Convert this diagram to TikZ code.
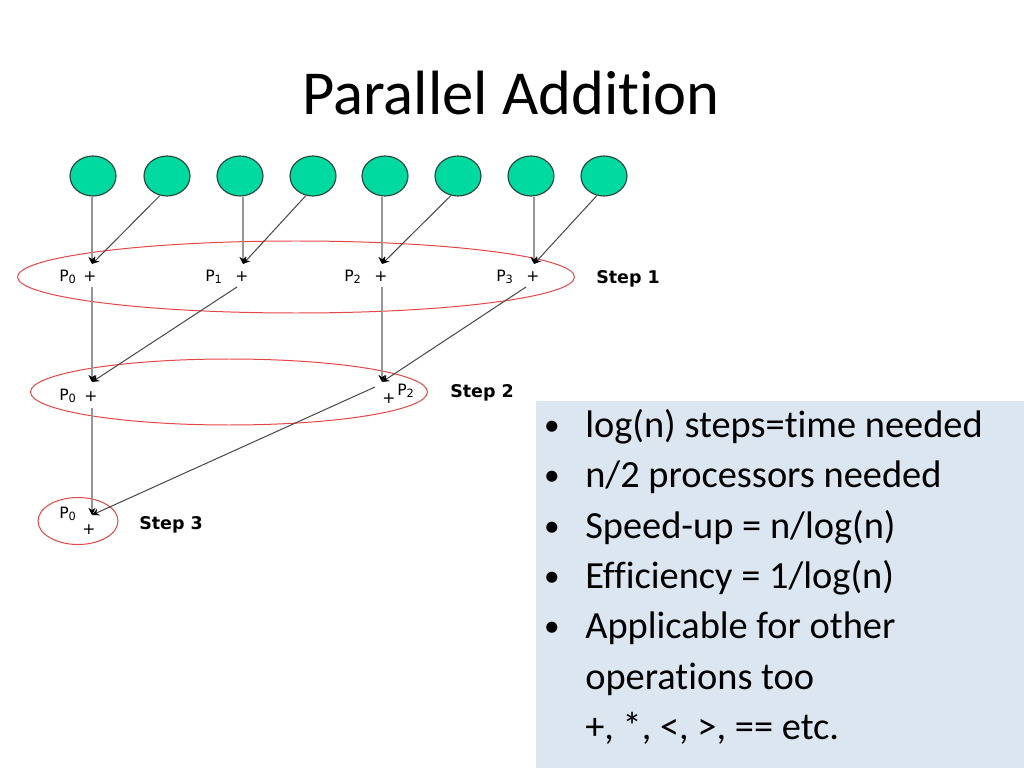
\documentclass[tikz,border=0pt]{standalone}
\usepackage{fontspec}
\setmainfont{Carlito}[Ligatures=NoCommon]
\newfontfamily\verd{DejaVu Sans}
\usetikzlibrary{shapes.geometric,arrows.meta}
\definecolor{leafgreen}{RGB}{0,217,160}
\definecolor{leafedge}{RGB}{40,70,60}
\definecolor{ringred}{RGB}{228,70,70}
\definecolor{boxblue}{RGB}{220,230,241}
\definecolor{vline}{RGB}{150,150,150}
\definecolor{dline}{RGB}{70,70,70}
\tikzset{
  leaf/.style={ellipse, draw=leafedge, line width=0.8pt, fill=leafgreen, minimum width={46*0.703125pt}, minimum height={40*0.703125pt}, inner sep=0pt},
  ring/.style={ellipse, draw=ringred, line width=0.7pt, inner sep=0pt},
  plab/.style={font=\verd\fontsize{11}{13}\selectfont, anchor=base west, inner sep=0pt},
  plus/.style={font=\verd\fontsize{11}{13}\selectfont, inner sep=0.5pt},
  steplab/.style={font=\verd\bfseries\fontsize{12.3}{14}\selectfont, anchor=base west, inner sep=0pt},
  vconn/.style={draw=vline, line width=0.9pt, arrows={-{Stealth[length=5pt,width=5pt,black]}}},
  dconn/.style={draw=dline, line width=0.7pt, arrows={-{Stealth[length=5pt,width=5pt,black]}}},
  bul/.style={font=\fontsize{22}{26}\selectfont, anchor=base, inner sep=0pt},
  btxt/.style={font=\fontsize{27}{32}\selectfont, anchor=base west, inner sep=0pt},
}
\newcommand{\Pl}[1]{P\raisebox{-0.35ex}{\fontsize{8}{9}\selectfont #1}}
\begin{document}
\begin{tikzpicture}[x=0.703125pt,y=-0.703125pt]
\useasboundingbox (0,0) rectangle (1024,768);
\fill[white] (0,0) rectangle (1024,768);
% title
\node[font=\fontsize{44}{52}\selectfont, anchor=base, inner sep=0pt] (title) at (511,115) {Parallel Addition};
% text box
\fill[boxblue] (536,401) rectangle (1024,768);
\node[bul] (b1) at (552,435) {•};
\node[btxt] (t1) at (585,437) {log(n) steps=time needed};
\node[bul] (b2) at (552,485) {•};
\node[btxt] (t2) at (585,487) {n/2 processors needed};
\node[bul] (b3) at (552,536) {•};
\node[btxt] (t3) at (585,538) {Speed-up = n/log(n)};
\node[bul] (b4) at (552,586) {•};
\node[btxt] (t4) at (585,588) {Efficiency = 1/log(n)};
\node[bul] (b5) at (552,636) {•};
\node[btxt] (t5) at (585,638) {Applicable for other};
\node[btxt] (t6) at (585,689) {operations too};
\node[btxt] (t7) at (585,739) {+, *, <, >, == etc.};
% rings
\node[ring, minimum width={557*0.703125pt}, minimum height={72*0.703125pt}] (ring1) at (296,277) {};
\node[ring, minimum width={397*0.703125pt}, minimum height={66*0.703125pt}] (ring2) at (229,392) {};
\node[ring, minimum width={80*0.703125pt}, minimum height={47*0.703125pt}] (ring3) at (78,521) {};
% leaves
\node[leaf] (c1) at (93,176) {};
\node[leaf] (c2) at (167,176) {};
\node[leaf] (c3) at (240,176) {};
\node[leaf] (c4) at (313,176) {};
\node[leaf] (c5) at (385,176) {};
\node[leaf] (c6) at (458,176) {};
\node[leaf] (c7) at (531,176) {};
\node[leaf] (c8) at (604,176) {};
% step 1
\coordinate (j1a) at (92,264);
\coordinate (j1b) at (243,264);
\coordinate (j1c) at (382,264);
\coordinate (j1d) at (534,264);
\node[plus] (q1a) at (90,277) {+};
\node[plus] (q1b) at (242,277) {+};
\node[plus] (q1c) at (381,277) {+};
\node[plus] (q1d) at (533,277) {+};
\node[plab] (l1a) at (59,281) {\Pl{0}};
\node[plab] (l1b) at (205,281) {\Pl{1}};
\node[plab] (l1c) at (344,281) {\Pl{2}};
\node[plab] (l1d) at (496,281) {\Pl{3}};
\node[steplab] (s1) at (596,283) {Step 1};
\draw[vconn] (c1.south -| j1a) -- (j1a);
\draw[dconn] (c2.250) -- (j1a);
\draw[vconn] (c3.south -| j1b) -- (j1b);
\draw[dconn] (c4.250) -- (j1b);
\draw[vconn] (c5.south -| j1c) -- (j1c);
\draw[dconn] (c6.250) -- (j1c);
\draw[vconn] (c7.south -| j1d) -- (j1d);
\draw[dconn] (c8.250) -- (j1d);
% step 2
\coordinate (j2a) at (92,382);
\coordinate (j2b) at (382,382);
\node[plus] (q2a) at (91,397) {+};
\node[plus] (q2b) at (389,399) {+};
\node[plab] (l2a) at (59,400) {\Pl{0}};
\node[plab] (l2b) at (397,395) {\Pl{2}};
\node[steplab] (s2) at (450,397) {Step 2};
\coordinate (d1b) at (237,287);
\coordinate (d1d) at (526,287);
\draw[vconn] (92,287) -- (j2a);
\draw[dconn] (d1b) -- (j2a);
\draw[vconn] (382,287) -- (j2b);
\draw[dconn] (d1d) -- (j2b);
% step 3
\coordinate (j3) at (92,515);
\node[plus] (q3) at (89,530) {+};
\node[plab] (l3) at (59,518) {\Pl{0}};
\node[steplab] (s3) at (139,529) {Step 3};
\coordinate (d2b) at (375,387);
\draw[vconn] (92,408) -- (j3);
\draw[dconn] (d2b) -- (j3);
\end{tikzpicture}
\end{document}
